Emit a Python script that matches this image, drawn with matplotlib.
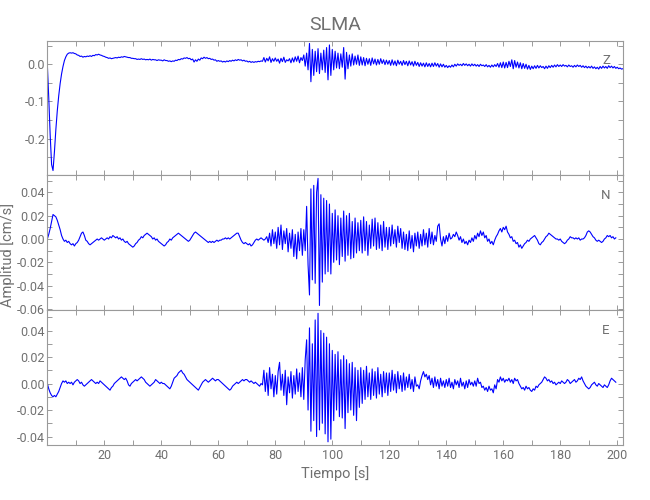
#!/usr/bin/env python3
# -*- coding: utf-8 -*-
"""
Three-component velocity record for station SLMA (Z / N / E).
Traces digitised by eye at 0.5 s steps, values in 1e-3 cm/s.
"""

import matplotlib
matplotlib.use("Agg", force=True)

import numpy as np
import matplotlib.pyplot as plt
from matplotlib.ticker import MultipleLocator, FormatStrFormatter


# -----------------------------
# Data (1e-3 cm/s, dt = 0.5 s)
# -----------------------------

DT = 0.5

z_trace = [
    0, -90, -190, -270, -286, -235, -175, -125, -85, -52, -26, -6, 10, 20, 27, 30, 31, 30, 31, 29,
    28, 25, 24, 21, 22, 19, 21, 20, 22, 21, 23, 21, 24, 23, 26, 25, 27, 25, 24, 22,
    21, 19, 18, 16, 17, 15, 16, 17, 18, 17, 19, 18, 20, 19, 21, 20, 19, 18, 18, 16,
    16, 15, 15, 13, 14, 13, 15, 13, 14, 12, 13, 12, 14, 11, 13, 12, 12, 10, 12, 11,
    11, 9, 12, 10, 10, 8, 9, 7, 9, 8, 11, 10, 13, 12, 15, 14, 17, 16, 18, 15,
    16, 12, 14, 6, 12, 8, 14, 11, 17, 15, 19, 16, 18, 15, 16, 13, 14, 11, 12, 8,
    10, 8, 9, 6, 8, 6, 9, 7, 10, 8, 11, 9, 12, 10, 13, 11, 12, 9, 11, 8,
    9, 6, 8, 5, 7, 5, 7, 6, 8, 7, 9, 8, 18, 6, 16, 9, 20, 5, 15, 8,
    17, 8, 14, 3, 16, 7, 19, 5, 12, 9, 15, 4, 17, 6, 20, 8, 22, 4, 18, 10,
    25, -5, 30, -15, 56, -47, 40, -30, 35, -20, 42, -25, 30, -15, 38, -22, 45, -42, 52, -30,
    40, -15, 35, -10, 30, -12, 28, -8, 45, -40, 32, -12, 25, -5, 28, -2, 22, 0, 25, -3,
    20, -2, 18, -4, 16, 0, 15, -3, 17, 1, 14, -2, 13, 0, 15, 2, 12, -1, 11, 0,
    10, -3, 12, -2, 9, -4, 11, 0, 8, -3, 10, -1, 8, -4, 9, -2, 7, -5, 8, -3,
    5, -6, 4, -5, 3, -7, 4, -6, 2, -7, 3, -6, 4, -5, 2, -8, 1, -7, 0, -8,
    -3, -9, -4, -8, -2, -7, 0, -5, 1, -3, 0, -4, 2, -3, 1, -4, 0, -5, 1, -4,
    0, -5, -1, -6, 0, -4, -2, -6, -1, -7, -3, -8, -2, -7, -1, -6, 2, -8, 4, -9,
    6, -10, 5, -9, 8, -6, 12, -12, 10, -8, 6, -10, 4, -12, 2, -11, 0, -13, -3, -14,
    -5, -12, -4, -11, -3, -10, -4, -9, -6, -12, -5, -11, -4, -9, -3, -8, -2, -7, -1, -6,
    -2, -6, -1, -5, -3, -7, -2, -6, -4, -8, -3, -7, -2, -6, -3, -8, -4, -9, -5, -10,
    -6, -10, -5, -11, -7, -12, -8, -13, -6, -11, -5, -10, -6, -11, -4, -9, -5, -10, -6, -11,
    -8, -12, -10, -13, -12,
]

n_trace = [
    0, 4, 9, 15, 21, 20, 19, 16, 12, 8, 3, 0, -2, -1, -3, -2, -4, -5, -4, -6,
    -4, -3, -1, 2, 5, 6, 3, -1, -2, -4, -5, -4, -3, -2, -1, 0, -1, 0, 1, 0,
    -1, 0, 1, 0, 2, 1, 3, 2, 1, 2, 0, 1, -1, 0, -2, -3, -2, -4, -5, -6,
    -7, -6, -4, -3, -1, 0, 2, 1, 3, 4, 5, 4, 3, 2, 0, 1, -1, 0, -2, -3,
    -4, -5, -6, -5, -3, -2, 0, -1, 1, 2, 3, 4, 5, 4, 3, 2, 1, 0, -1, -2,
    -1, 1, 3, 5, 6, 5, 4, 3, 2, 1, 0, -1, -2, -3, -2, -3, -2, -3, -2, -1,
    -2, -1, -1, 0, 0, 1, 0, 1, 0, 1, 2, 3, 4, 5, 5, 2, -1, -3, -4, -3,
    -4, -5, -4, -6, -5, -3, -1, 0, -1, 0, 1, 0, -1, 0, 2, -3, 5, -6, 8, -4,
    6, -8, 10, -5, 12, -9, 7, -4, 9, -11, 5, -8, 8, -15, 4, -17, 6, -10, 9, -14,
    8, -10, 28, -22, -48, 43, -35, 46, -38, 40, 52, -57, 38, -37, 35, -30, 33, -28, 30, -30,
    22, -20, 25, -18, 20, -22, 18, -15, 24, -19, 20, -14, 22, -17, 15, -16, 18, -12, 14, -10,
    16, -12, 19, -10, 15, -14, 12, -8, 17, -6, 18, -9, 14, -8, 12, -10, 15, -7, 10, -9,
    10, -6, 12, -4, 8, -7, 11, -3, 9, -8, 6, -9, 4, -10, 7, -8, 3, -11, 5, -6,
    6, -8, 4, -6, 8, -5, 5, -7, 9, -4, 6, -5, 3, -2, 11, 13, 0, -6, 2, -4,
    3, -2, 5, 0, 1, 4, 2, 6, 3, -1, 2, -3, 0, -4, -2, -5, -1, -3, 1, -2,
    3, 0, 5, 2, 7, 3, 6, 1, 3, -2, 0, -4, -2, -5, -1, 2, 4, 7, 9, 6,
    10, 8, 11, 6, 4, 1, 2, -2, -1, -4, -3, -7, -5, -8, -6, -4, -3, -1, -2, 0,
    1, 2, 3, 1, -1, -4, -5, -3, -2, 0, 2, 3, 5, 4, 3, 2, 1, 0, 0, -1,
    0, -2, -3, -4, -3, -1, 0, 2, 1, 1, 0, 1, 0, 1, -1, 0, 0, 1, 3, 6,
    7, 6, 4, 2, 1, -1, -2, -1, -2, -3, -2, 0, 1, 3, 2, 3, 1, 2, 0, 1,
]

e_trace = [
    0, -4, -7, -9, -10, -9, -10, -8, -6, -3, 0, 2, 1, 2, 0, 1, 0, 1, -1, 1,
    2, 3, 2, 0, 1, -1, -2, -1, 0, 1, 2, 3, 2, 1, 0, 1, 0, 2, 1, 0,
    -1, -2, -3, -4, -5, -3, -2, 0, 1, 2, 3, 4, 5, 4, 3, 4, 2, -1, -2, 0,
    1, 2, 3, 2, 3, 4, 5, 4, 3, 1, 0, -1, -2, -1, 0, 1, 3, 2, 1, 0,
    1, 0, 0, -1, -2, -3, -4, -2, 1, 4, 5, 6, 8, 9, 10, 8, 7, 5, 3, 2,
    1, 0, -1, -2, -3, -4, -5, -3, -1, 1, 2, 3, 2, 1, 2, 3, 4, 3, 2, 3,
    3, 2, 1, 0, -1, -2, -3, -4, -5, -4, -2, -1, 0, 1, 0, 1, 2, 3, 2, 3,
    3, 2, 1, 2, 1, 0, 1, 0, -1, -2, 0, -1, 10, -6, 8, -9, 12, -4, 7, -10,
    6, -8, 9, 16, -5, 7, -9, 10, -16, 5, -7, 9, -11, 6, -8, 11, -6, 8, -10, 12,
    -12, 18, 33, -20, 42, -36, 30, -28, 48, -40, 53, -35, 40, -30, 38, -38, 35, -44, 30, -42,
    25, -28, 22, -20, 24, -25, 18, -26, 21, -34, 18, -22, 15, -20, 16, -24, 12, -28, 10, -18,
    12, -15, 10, -12, 13, -10, 8, -12, 11, -9, 9, -11, 12, -8, 7, -10, 9, -7, 8, -9,
    8, -6, 10, -5, 7, -7, 9, -4, 6, -6, 8, -5, 5, -3, 7, -4, 3, -6, 5, -2,
    -1, -4, 2, 6, 9, 5, 7, 3, 6, -1, 4, -3, 5, -2, 3, -4, 4, -2, 2, -3,
    3, -2, 4, -3, 1, -4, 3, -1, 2, -3, 4, -2, 1, -4, 2, -3, 3, -1, 1, -2,
    2, -2, 4, 0, 1, -3, -2, -5, -3, -6, -2, -5, -4, -7, -1, -4, 3, 1, 5, 2,
    4, 1, 3, 2, 4, 1, 3, 0, 4, 2, 3, 0, -2, -4, -3, -5, -2, -4, -3, -5,
    -6, -4, -5, -2, -3, -1, 0, 1, 3, 5, 4, 2, 3, 1, 2, 0, 1, -1, 0, 1,
    0, 2, 1, 0, 1, 3, 2, 0, 1, 2, 3, 1, 2, 4, 3, 5, 2, 0, -2, -3,
    -4, -3, -1, 0, 1, -1, -2, 0, -1, -2, -3, -1, -2, -3, -1, 2, 4, 3, 2, 1,
]

channels = ["Z", "N", "E"]
traces = [z_trace, n_trace, e_trace]

# per-panel y settings: limits, major step, minor step, label format
y_limits = [(-0.298, 0.0634), (-0.0609, 0.0549), (-0.0464, 0.0555)]
y_major = [0.1, 0.02, 0.02]
y_minor = [0.05, 0.01, 0.01]
y_fmt = ["%.1f", "%.2f", "%.2f"]

X_MAX = 202.1

GRAY_AX = "#9a9a9a"
GRAY_TX = "#707070"
BLUE = "#0000ff"


# -----------------------------
# Plot
# -----------------------------

# narrow look of the original vector font
plt.rcParams["font.family"] = ["Roboto", "DejaVu Sans"]
plt.rcParams["font.stretch"] = "condensed"
plt.rcParams["axes.unicode_minus"] = False

fig = plt.figure(figsize=(6.5, 5.0), dpi=100)

left, width = 0.0728, 0.886
bottoms = [0.65, 0.38, 0.11]
heights = [0.2686, 0.27, 0.27]

for i, (ch, tr) in enumerate(zip(channels, traces)):
    ax = fig.add_axes([left, bottoms[i], width, heights[i]])
    y = np.asarray(tr, dtype=float) * 1e-3
    t = np.arange(len(y)) * DT
    ax.plot(t, y, color=BLUE, lw=0.8)

    ax.set_xlim(0, X_MAX)
    ax.set_ylim(*y_limits[i])

    ax.xaxis.set_major_locator(MultipleLocator(20))
    ax.xaxis.set_minor_locator(MultipleLocator(10))
    ax.yaxis.set_major_locator(MultipleLocator(y_major[i]))
    ax.yaxis.set_minor_locator(MultipleLocator(y_minor[i]))
    ax.yaxis.set_major_formatter(FormatStrFormatter(y_fmt[i]))

    for s in ax.spines.values():
        s.set_color(GRAY_AX)
        s.set_linewidth(0.8)

    ax.tick_params(which="both", direction="in", top=True, right=True,
                   length=3.3, width=0.7, color=GRAY_AX, labelcolor=GRAY_TX,
                   labelsize=9)
    ax.tick_params(axis="y", pad=1.5)
    ax.tick_params(axis="x", pad=3)

    if i < 2:
        ax.tick_params(axis="x", labelbottom=False)
    else:
        ticks = [v for v in ax.get_xticks() if 0 < v <= 200]
        ax.set_xticks(ticks)
        ax.set_xlabel("Tiempo [s]", color=GRAY_TX, fontsize=10.5, labelpad=3)

    ax.text(0.97, 0.85, ch, transform=ax.transAxes, ha="center", va="center",
            color=GRAY_TX, fontsize=9.5)

    if i == 0:
        ax.set_title("SLMA", color=GRAY_TX, fontsize=14, pad=8)

fig.text(0.012, 0.49, "Amplitud [cm/s]", rotation=90, ha="center", va="center",
         color=GRAY_TX, fontsize=10.5)

fig.savefig("out.png", dpi=100)
plt.close(fig)
